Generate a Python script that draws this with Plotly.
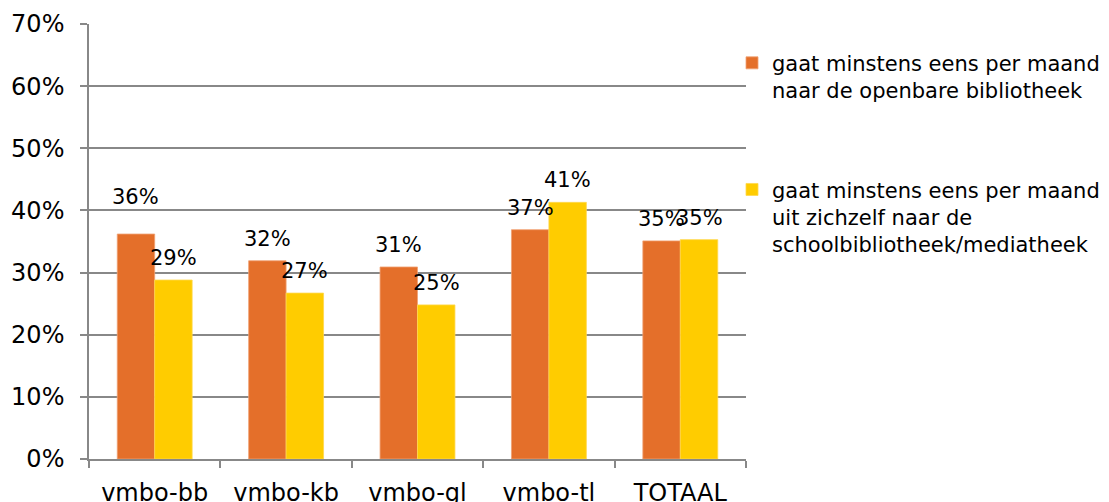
import plotly.graph_objects as go

categories = ["vmbo-bb", "vmbo-kb", "vmbo-gl", "vmbo-tl", "TOTAAL"]
series_names = [
    "gaat minstens eens per maand<br>naar de openbare bibliotheek",
    "gaat minstens eens per maand<br>uit zichzelf naar de<br>schoolbibliotheek/mediatheek",
]
openbare = [0.362, 0.319, 0.309, 0.369, 0.351]
school = [0.288, 0.267, 0.248, 0.413, 0.353]

colors = ["#E46F2A", "#FFCC00"]
edge_colors = ["#F0A173", "#FFD84D"]
BARGAP = 0.43
label_shift = [[37, 22, 22, 22, 22], [22, 22, 22, 22, 22]]

fig = go.Figure()
for k, (name, vals) in enumerate(zip(series_names, [openbare, school])):
    fig.add_trace(go.Bar(
        x=categories, y=vals, name=name, marker_color=colors[k],
        marker_line_width=0.8, marker_line_color=edge_colors[k],
        legendgroup=f"g{k}",
    ))

half = (1 - BARGAP) / 4
annotations = []
for k, vals in enumerate([openbare, school]):
    for i, v in enumerate(vals):
        annotations.append(dict(
            x=i + (-half if k == 0 else half), y=v, xref="x", yref="y",
            text=f"{round(v * 100):.0f}%", showarrow=False,
            yshift=label_shift[k][i], font=dict(size=21, color="#000000"),
        ))

grid = "#888888"
# the page body adds an 8px offset; the figure is sized so the visible
# window shows the same region as the reference
fig.update_layout(
    width=1117, height=510, autosize=False,
    margin=dict(l=81, r=379, t=16, b=59, pad=0),
    paper_bgcolor="white", plot_bgcolor="white",
    font=dict(family="DejaVu Sans", size=24, color="#000000"),
    barmode="group", bargap=BARGAP, bargroupgap=0,
    showlegend=True,
    legend=dict(
        x=0.9787, xanchor="left", y=0.957, yanchor="top",
        font=dict(size=21, color="#000000"), valign="top",
        tracegroupgap=69, bgcolor="rgba(0,0,0,0)",
    ),
    annotations=annotations,
)
fig.update_xaxes(
    type="category", showline=True, linecolor=grid, linewidth=1.5,
    ticks="outside", tickson="boundaries", ticklen=7, tickwidth=1.5,
    tickcolor=grid, showgrid=False, ticklabelstandoff=11, automargin=False,
)
fig.update_yaxes(
    range=[0, 0.7], dtick=0.1, tickformat=".0%", showline=True,
    linecolor=grid, linewidth=1.5, ticks="outside", ticklen=7, tickwidth=1.5,
    tickcolor=grid, showgrid=True, gridcolor=grid, gridwidth=1.5,
    zeroline=False, ticklabelstandoff=11, automargin=False,
)

fig.write_html("out.html")
